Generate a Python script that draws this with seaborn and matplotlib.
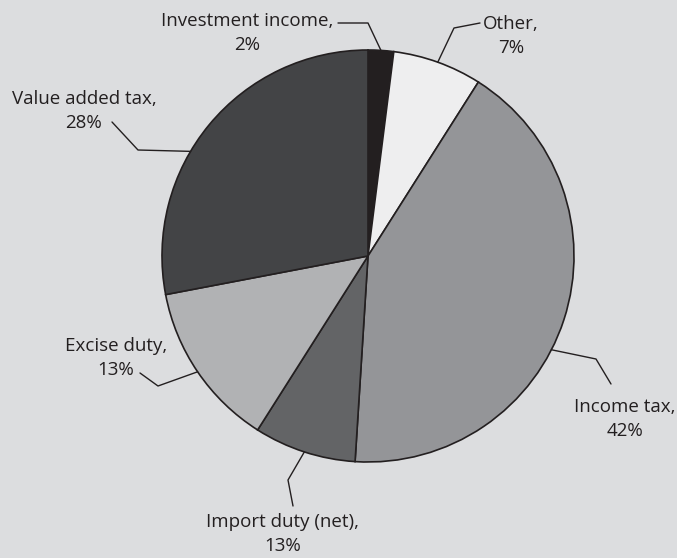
import numpy as np
import matplotlib
matplotlib.use("Agg")
import matplotlib.pyplot as plt
import seaborn as sns

# slices, clockwise from 12 o'clock
categories = ["Investment income", "Other", "Income tax", "Import duty (net)", "Excise duty", "Value added tax"]
shares = [2, 7, 42, 8, 13, 28]
pct_labels = ["2%", "7%", "42%", "13%", "13%", "28%"]
colors = ["#231f20", "#eeeeef", "#949598", "#636466", "#b1b2b4", "#434446"]

sns.set_theme(style="white")
plt.rcParams["font.family"] = ["Open Sans", "DejaVu Sans"]

W, H = 677, 558
bg = "#dcdddf"
fig = plt.figure(figsize=(W / 100, H / 100), dpi=100, facecolor=bg)
ax = fig.add_axes([0, 0, 1, 1])
ax.set_facecolor(bg)

cx, cy, r = 368, 256, 206
# y axis is flipped below, so counterclock=True draws clockwise on screen
wedges, _ = ax.pie(shares, colors=colors, startangle=-90, counterclock=True,
                   center=(cx, cy), radius=r, frame=True,
                   wedgeprops=dict(edgecolor="#231f20", linewidth=1.2))
ax.set_xlim(0, W)
ax.set_ylim(H, 0)
ax.set_aspect("equal")
ax.axis("off")

# leader lines: anchor fraction within wedge, elbow point, line end, text centre
leaders = [
    (0.5, (368, 23), (338, 23), (247, 33)),
    (0.5, (454, 28), (480, 23), (511, 36)),
    (0.56, (596, 359), (611, 384), (625, 419)),
    (0.5, (288, 480), (293, 506), (283, 534)),
    (0.5, (158, 386), (140, 373), (116, 358)),
    (0.41, (138, 150), (112, 122), (84, 111)),
]

for w, cat, pct, (frac, elbow, end, tpos) in zip(wedges, categories, pct_labels, leaders):
    ang = np.deg2rad(w.theta1 + frac * (w.theta2 - w.theta1))
    sx = cx + r * np.cos(ang)
    sy = cy + r * np.sin(ang)
    ax.plot([sx, elbow[0], end[0]], [sy, elbow[1], end[1]], color="#231f20", lw=1.0)
    ax.text(tpos[0], tpos[1], cat + ",\n" + pct, ha="center", va="center",
            fontsize=13.5, color="#231f20", linespacing=1.45)

fig.savefig("out.png", dpi=100, facecolor=bg)
